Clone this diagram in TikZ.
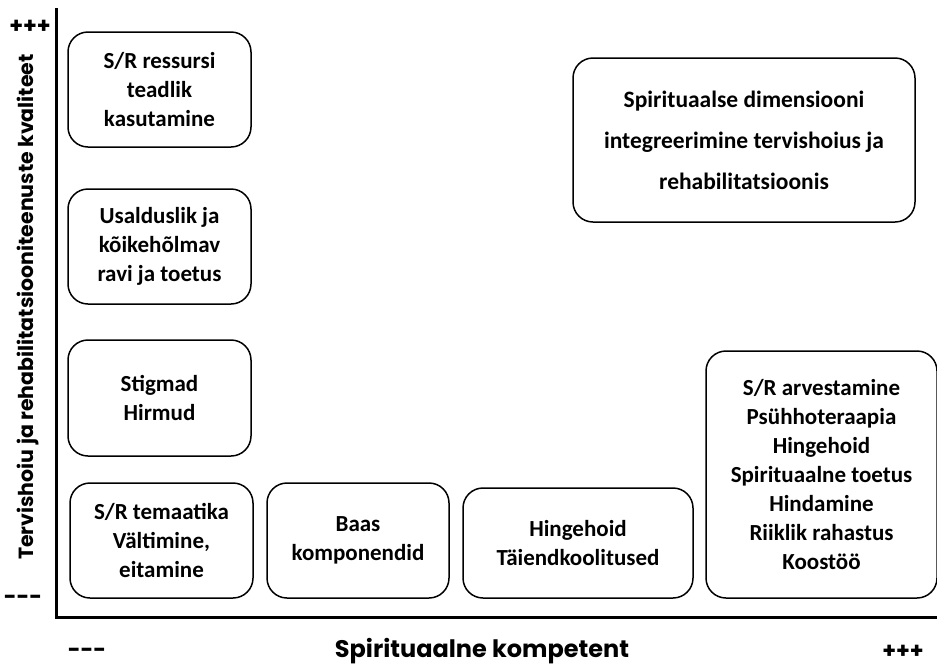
\documentclass[tikz,border=0pt]{standalone}
\usepackage{fontspec}
\setmainfont{Carlito}
\newfontfamily\axisfont{Poppins}
\usepackage{tikz}
\usetikzlibrary{positioning}
\tikzset{
    box/.style={
        rectangle,
        draw=black,
        line width=1.5pt,
        rounded corners=20pt,
        align=center,
        inner sep=0pt,
        font=\fontsize{23}{29}\selectfont\bfseries
    },
    widebox/.style={
        box,
        font=\fontsize{23.5}{41}\selectfont\bfseries
    },
    axis/.style={
        draw=black,
        line width=3pt
    },
    axislabel/.style={
        font=\fontsize{24}{28}\selectfont\axisfont\bfseries
    },
    signlabel/.style={
        font=\fontsize{22}{26}\selectfont\axisfont\bfseries
    }
}
\begin{document}
\begin{tikzpicture}[x=1pt, y=-1pt]
\useasboundingbox (0,0) rectangle (937,665);

% Axes
\coordinate (origin) at (56,617);
\coordinate (ytop) at (56,8);
\coordinate (xend) at (940,617);
\draw[axis] (ytop) -- (origin.center) -- (xend);

% Axis labels
\node[signlabel] (yplus) at (30,27) {+++};
\node[signlabel] (yminus) at (23,600) {---};
\node[signlabel] (xminus) at (87,653) {---};
\node[signlabel] (xplus) at (903,652) {+++};
\node[axislabel] (xtitle) at (482,651) {Spirituaalne kompetent};
\node[axislabel, font=\fontsize{20.5}{24}\selectfont\axisfont\bfseries, rotate=90] (ytitle) at (28,307) {Tervishoiu ja rehabilitatsiooniteenuste kvaliteet};

% Left column
\node[box, minimum width=183pt, minimum height=115pt] (ressurss) at (159.5,89.5) {S/R ressursi\\teadlik\\kasutamine};
\node[box, minimum width=183pt, minimum height=115pt] (usaldus) at (159.5,246.5) {Usalduslik ja\\kõikehõlmav\\ravi ja toetus};
\node[box, minimum width=183pt, minimum height=116pt] (stigmad) at (159.5,398) {Stigmad\\Hirmud};

% Bottom row
\node[box, minimum width=183pt, minimum height=115pt] (temaatika) at (161.5,540.5) {S/R temaatika\\Vältimine,\\eitamine};
\node[box, minimum width=182pt, minimum height=115pt] (baas) at (358,540.5) {Baas\\komponendid};
\node[box, minimum width=230pt, minimum height=110pt] (hingehoid) at (578,543) {Hingehoid\\Täiendkoolitused};
\node[box, minimum width=231pt, minimum height=247pt] (arvestamine) at (821.5,474.5) {S/R arvestamine\\Psühhoteraapia\\Hingehoid\\Spirituaalne toetus\\Hindamine\\Riiklik rahastus\\Koostöö};

% Top right
\node[widebox, minimum width=342pt, minimum height=164pt] (integreerimine) at (744,140) {Spirituaalse dimensiooni\\integreerimine tervishoius ja\\rehabilitatsioonis};

\end{tikzpicture}
\end{document}
